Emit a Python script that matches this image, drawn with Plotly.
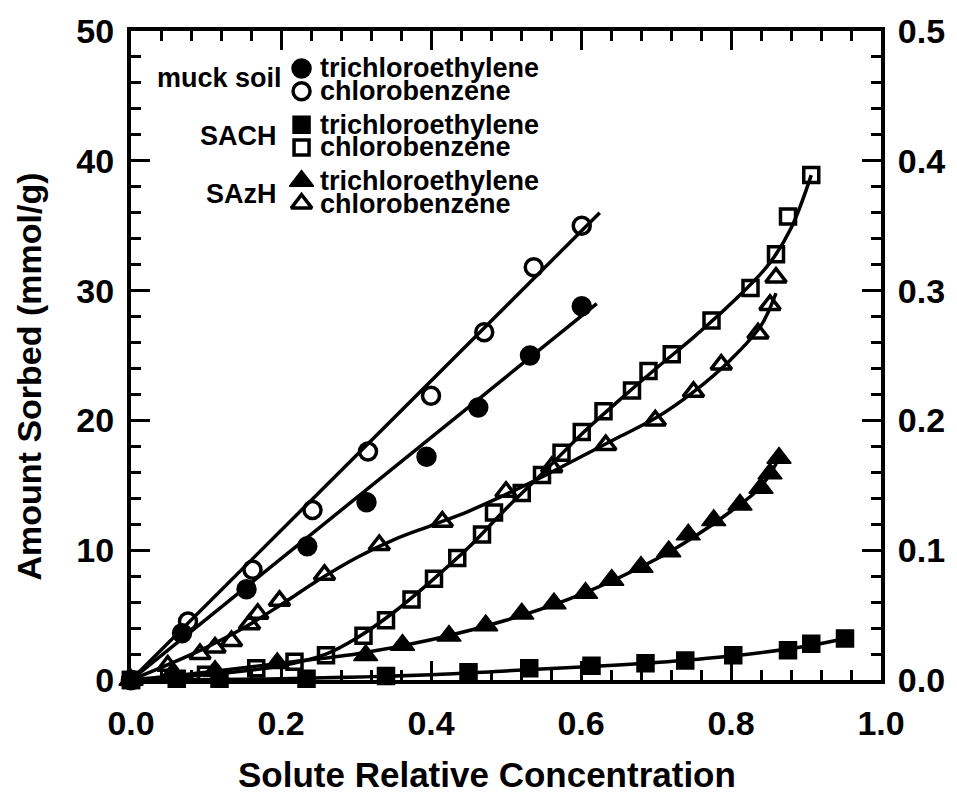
import plotly.graph_objects as go

# ---------------- data (left-axis units, mmol/g) ----------------
muck_tce_x = [0, 0.068, 0.154, 0.235, 0.314, 0.394, 0.463, 0.532, 0.601]
muck_tce_y = [0, 3.6, 7.0, 10.3, 13.7, 17.2, 21.0, 25.0, 28.8]
muck_cb_x = [0, 0.076, 0.162, 0.242, 0.316, 0.400, 0.471, 0.537, 0.601]
muck_cb_y = [0, 4.5, 8.5, 13.1, 17.6, 21.9, 26.8, 31.8, 35.0]

sach_tce_x = [0, 0.061, 0.118, 0.234, 0.34, 0.45, 0.531, 0.614, 0.686, 0.739, 0.803, 0.876, 0.907, 0.952]
sach_tce_y = [0, 0.1, 0.1, 0.1, 0.3, 0.6, 0.9, 1.1, 1.3, 1.5, 1.9, 2.3, 2.8, 3.2]
sach_cb_x = [0, 0.10, 0.167, 0.218, 0.26, 0.31, 0.34, 0.374, 0.404, 0.435, 0.468, 0.484, 0.521,
             0.548, 0.574, 0.601, 0.630, 0.668, 0.690, 0.721, 0.774, 0.826, 0.860, 0.876, 0.907]
sach_cb_y = [0, 0.4, 0.9, 1.4, 1.9, 3.4, 4.6, 6.2, 7.8, 9.4, 11.2, 12.9, 14.4,
             15.8, 17.5, 19.1, 20.7, 22.3, 23.8, 25.1, 27.7, 30.2, 32.8, 35.7, 38.9]

sazh_tce_x = [0, 0.054, 0.112, 0.195, 0.313, 0.362, 0.424, 0.473, 0.521, 0.564, 0.606, 0.641,
              0.680, 0.717, 0.743, 0.777, 0.812, 0.840, 0.852, 0.864]
sazh_tce_y = [0, 0.4, 0.7, 1.3, 1.9, 2.7, 3.4, 4.2, 5.1, 5.9, 6.7, 7.7,
              8.7, 9.9, 11.2, 12.3, 13.5, 14.8, 15.9, 17.1]
sazh_cb_x = [0, 0.049, 0.092, 0.112, 0.134, 0.158, 0.169, 0.198, 0.258, 0.331, 0.415, 0.50,
             0.561, 0.633, 0.699, 0.750, 0.787, 0.836, 0.852, 0.860]
sazh_cb_y = [0, 1.1, 2.0, 2.5, 3.0, 4.3, 5.1, 6.1, 8.1, 10.4, 12.2, 14.5,
             16.4, 18.1, 20.0, 22.2, 24.3, 26.7, 28.9, 31.0]

# fitted curves
muck_tce_fit_x = [0, 0.621]
muck_tce_fit_y = [0, 29.0]
muck_cb_fit_x = [0, 0.625]
muck_cb_fit_y = [0, 36.0]
sach_tce_fit_x = [0, 0.2, 0.4, 0.5, 0.6, 0.7, 0.8, 0.9, 0.952]
sach_tce_fit_y = [0, 0.1, 0.4, 0.7, 1.0, 1.35, 1.85, 2.6, 3.2]
sach_cb_fit_x = [0, 0.1, 0.2, 0.26, 0.3, 0.35, 0.4, 0.45, 0.5, 0.55, 0.6, 0.65, 0.7, 0.75, 0.8, 0.85, 0.88, 0.907]
sach_cb_fit_y = [0, 0.4, 1.1, 2.0, 3.2, 5.2, 7.6, 10.2, 13.2, 16.0, 18.9, 21.5, 24.0, 26.4, 29.0, 32.0, 34.8, 38.9]
sazh_tce_fit_x = [0, 0.1, 0.2, 0.3, 0.4, 0.5, 0.6, 0.7, 0.75, 0.8, 0.84, 0.866]
sazh_tce_fit_y = [0, 0.6, 1.3, 2.0, 3.1, 4.6, 6.6, 9.3, 11.0, 13.0, 14.9, 17.3]
sazh_cb_fit_x = [0, 0.05, 0.1, 0.15, 0.2, 0.25, 0.3, 0.35, 0.4, 0.45, 0.5, 0.55, 0.6, 0.65, 0.7, 0.75, 0.8, 0.84, 0.86]
sazh_cb_fit_y = [0, 1.2, 2.5, 4.0, 5.8, 7.7, 9.4, 10.8, 11.9, 13.0, 14.3, 15.7, 17.2, 18.7, 20.2, 22.2, 24.7, 27.3, 29.8]

x_ticks = [0.0, 0.2, 0.4, 0.6, 0.8, 1.0]
y_ticks = [0, 10, 20, 30, 40, 50]
y2_ticks = [0.0, 0.1, 0.2, 0.3, 0.4, 0.5]

group_labels = ["muck soil", "SACH", "SAzH"]
solutes = ["trichloroethylene", "chlorobenzene"]

# ---------------- layout constants ----------------
W, H = 957, 801
L, R, T, B = 131, 883, 22, 680
FONT = "Liberation Sans, Arial, sans-serif"


def px_x(px):
    return (px - L) / (R - L)


def px_y(py):
    return (B - py) / (B - T)


fig = go.Figure()

# (x, y, fit x, fit y, symbol, size, marker line width, line shape)
series = [
    (muck_tce_x, muck_tce_y, muck_tce_fit_x, muck_tce_fit_y, "circle", 19, 1.5, "linear"),
    (muck_cb_x, muck_cb_y, muck_cb_fit_x, muck_cb_fit_y, "circle-open", 17, 3.5, "linear"),
    (sach_tce_x, sach_tce_y, sach_tce_fit_x, sach_tce_fit_y, "square", 17, 1.5, "spline"),
    (sach_cb_x, sach_cb_y, sach_cb_fit_x, sach_cb_fit_y, "square-open", 15, 3.5, "spline"),
    (sazh_tce_x, sazh_tce_y, sazh_tce_fit_x, sazh_tce_fit_y, "triangle-up", 21, 1.5, "spline"),
    (sazh_cb_x, sazh_cb_y, sazh_cb_fit_x, sazh_cb_fit_y, "triangle-up-open", 18, 3.5, "spline"),
]

for xs, ys, fx, fy, sym, size, lw, shape in series:
    fig.add_trace(go.Scatter(x=fx, y=fy, mode="lines", cliponaxis=False,
                             line=dict(color="black", width=3.5, shape=shape, smoothing=1.0),
                             showlegend=False, hoverinfo="skip"))
    fig.add_trace(go.Scatter(x=xs, y=ys, mode="markers", cliponaxis=False,
                             marker=dict(symbol=sym, size=size, color="black",
                                         line=dict(color="black", width=lw)),
                             showlegend=False))

# dummy traces for right and top axes
fig.add_trace(go.Scatter(x=[0], y=[0], yaxis="y2", mode="markers",
                         marker=dict(opacity=0), showlegend=False, hoverinfo="skip"))
fig.add_trace(go.Scatter(x=[0], y=[0], xaxis="x4", mode="markers",
                         marker=dict(opacity=0), showlegend=False, hoverinfo="skip"))

# custom legend markers (on hidden overlay axes in 0..1 paper-like units)
leg_rows = [60, 83, 117, 140, 174, 197]
for i, s in enumerate(series):
    fig.add_trace(go.Scatter(x=[px_x(302)], y=[px_y(leg_rows[i])], xaxis="x3", yaxis="y3",
                             mode="markers", cliponaxis=False,
                             marker=dict(symbol=s[4], size=s[5], color="black",
                                         line=dict(color="black", width=s[6])),
                             showlegend=False, hoverinfo="skip"))

ann = []
for i, row in enumerate(leg_rows):
    ann.append(dict(x=px_x(318), y=px_y(row), xref="paper", yref="paper",
                    text=solutes[i % 2], showarrow=False, xanchor="left", yanchor="middle",
                    font=dict(family=FONT, size=27, color="black", weight="bold")))
group_y = [70, 128, 187]
group_right = [284, 279, 279]
for g, gy, gr in zip(group_labels, group_y, group_right):
    ann.append(dict(x=px_x(gr), y=px_y(gy), xref="paper", yref="paper",
                    text=g, showarrow=False, xanchor="right", yanchor="middle",
                    font=dict(family=FONT, size=27, color="black", weight="bold")))

# axis titles
ann.append(dict(x=px_x(488), y=px_y(776), xref="paper", yref="paper",
                text="Solute Relative Concentration", showarrow=False,
                xanchor="center", yanchor="middle",
                font=dict(family=FONT, size=35, color="black", weight="bold")))
ann.append(dict(x=px_x(29), y=px_y(372), xref="paper", yref="paper",
                text="Amount Sorbed (mmol/g)", showarrow=False, textangle=-90,
                xanchor="center", yanchor="middle",
                font=dict(family=FONT, size=34, color="black", weight="bold")))

tickfont = dict(family=FONT, size=34, color="black", weight="bold")
common = dict(showline=True, linecolor="black", linewidth=4, ticks="inside",
              ticklen=19, tickwidth=3, tickcolor="black", showgrid=False, zeroline=False,
              tickfont=tickfont)
minor_common = dict(ticks="inside", ticklen=10, tickwidth=3, tickcolor="black", tick0=0)

fig.update_layout(
    width=W, height=H,
    margin=dict(l=L, r=W - R, t=T, b=H - B),
    paper_bgcolor="white", plot_bgcolor="white",
    showlegend=False,
    xaxis=dict(range=[0, 1], tickvals=x_ticks, ticktext=[f"{v:.1f}" for v in x_ticks],
               ticklabelstandoff=10, minor=dict(dtick=0.04, **minor_common), **common),
    xaxis4=dict(range=[0, 1], overlaying="x", side="top", anchor="y", tickvals=x_ticks,
                showticklabels=False, minor=dict(dtick=0.04, **minor_common), **common),
    yaxis=dict(range=[0, 50], tickvals=y_ticks, ticktext=[str(v) for v in y_ticks],
               ticklabelstandoff=6, minor=dict(dtick=2, **minor_common), **common),
    yaxis2=dict(range=[0, 0.5], overlaying="y", side="right", tickvals=y2_ticks,
                ticktext=[f"{v:.1f}" for v in y2_ticks], ticklabelstandoff=6,
                minor=dict(dtick=0.02, **minor_common), **common),
    xaxis3=dict(range=[0, 1], overlaying="x", visible=False, anchor="y3"),
    yaxis3=dict(range=[0, 1], overlaying="y", visible=False, anchor="x3"),
    annotations=ann,
)

fig.write_html("out.html")
